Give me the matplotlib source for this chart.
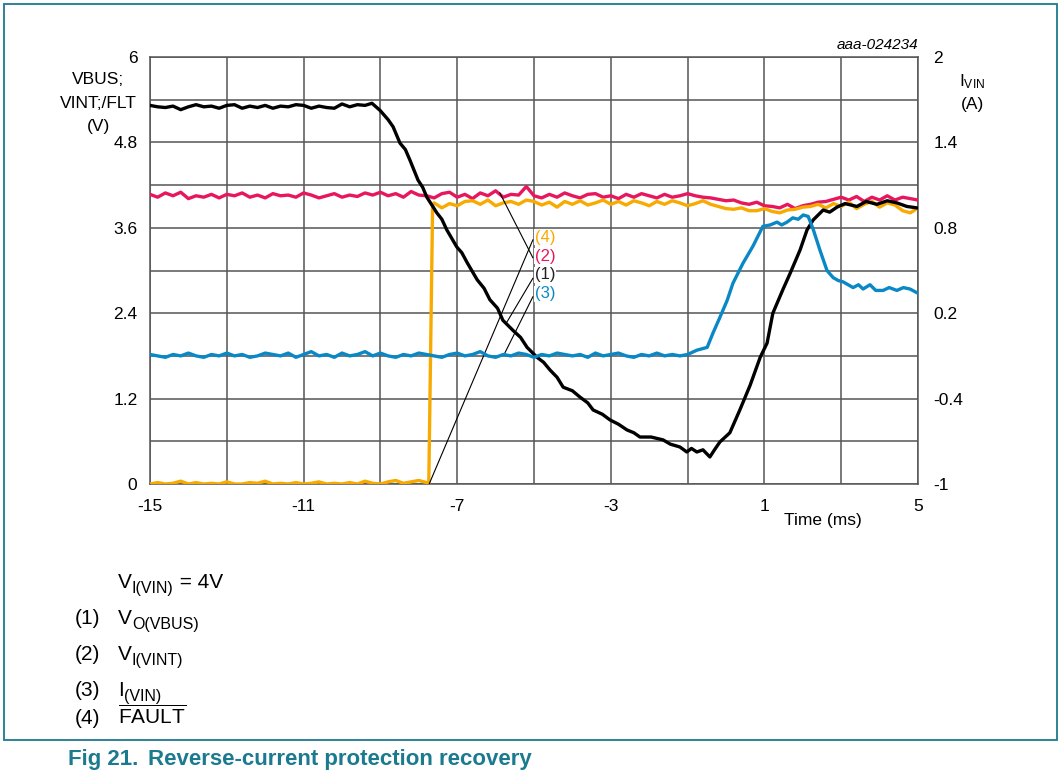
import numpy as np
import matplotlib
matplotlib.use("Agg")
import matplotlib.pyplot as plt
from matplotlib.patches import Rectangle
from matplotlib.transforms import offset_copy

plt.rcParams['font.family'] = ['Liberation Sans', 'DejaVu Sans']
plt.rcParams['mathtext.fontset'] = 'custom'
plt.rcParams['mathtext.rm'] = 'Liberation Sans'

# ---------------- data ----------------
# (1) V_O(VBUS) [V]
BLACK_FLAT_T = np.arange(-15.0, -9.39, 0.2)
BLACK_FLAT_V = [5.32, 5.30, 5.29, 5.31, 5.26, 5.30, 5.33, 5.30, 5.31, 5.28,
                5.32, 5.33, 5.28, 5.31, 5.29, 5.32, 5.28, 5.31, 5.30, 5.33,
                5.32, 5.28, 5.31, 5.29, 5.28, 5.34, 5.30, 5.33, 5.32]
BLACK_T = [-9.22, -9.01, -8.80, -8.67, -8.49, -8.35, -8.23, -8.02, -7.90, -7.79,
           -7.53, -7.40, -7.27, -7.01, -6.88, -6.74, -6.48, -6.30, -6.15, -5.95,
           -5.81, -5.55, -5.35, -5.18, -4.92, -4.75, -4.58, -4.40, -4.24, -4.00,
           -3.80, -3.60, -3.46, -3.22, -3.02, -2.80, -2.58, -2.40, -2.24, -1.95,
           -1.64, -1.45, -1.20, -1.02, -0.90, -0.76, -0.60, -0.42, -0.30, -0.16,
           0.10, 0.36, 0.63, 0.89, 1.07, 1.22, 1.48, 1.67, 1.93, 2.11,
           2.27, 2.53, 2.70, 2.89, 3.10, 3.41, 3.65, 3.93, 4.20, 4.45, 4.71, 4.97]
BLACK_V = [5.35, 5.25, 5.12, 5.02, 4.79, 4.70, 4.55, 4.27, 4.17, 4.03,
           3.81, 3.72, 3.57, 3.33, 3.25, 3.11, 2.87, 2.75, 2.59, 2.47,
           2.30, 2.16, 2.06, 1.92, 1.78, 1.71, 1.60, 1.50, 1.36, 1.31,
           1.22, 1.14, 1.04, 0.98, 0.90, 0.84, 0.76, 0.72, 0.66, 0.66,
           0.62, 0.56, 0.52, 0.45, 0.50, 0.45, 0.48, 0.38, 0.48, 0.59,
           0.72, 1.04, 1.39, 1.78, 1.98, 2.40, 2.73, 2.96, 3.29, 3.57,
           3.71, 3.85, 3.82, 3.89, 3.94, 3.90, 3.97, 3.93, 3.98, 3.95, 3.90, 3.88]

# (2) V_I(VINT) [V]
RED_T = np.arange(-15.0, 5.01, 0.2)
RED_V = [4.07, 4.03, 4.09, 4.05, 4.10, 4.01, 4.05, 4.03, 4.07, 4.02,
         4.07, 4.05, 4.09, 4.03, 4.06, 4.02, 4.08, 4.05, 4.06, 4.03,
         4.09, 4.06, 4.02, 4.05, 4.08, 4.03, 4.06, 4.04, 4.09, 4.06, 4.10,
         4.05, 4.08, 4.03, 4.11, 4.06, 4.05, 4.02, 4.08, 4.10, 4.03,
         4.07, 4.01, 4.09, 4.05, 4.12, 4.03, 4.07, 4.06, 4.18, 4.05,
         4.02, 4.07, 4.03, 4.09, 4.05, 4.02, 4.07, 4.08, 4.03, 4.05,
         4.01, 4.07, 4.03, 4.08, 4.05, 4.02, 4.07, 4.03, 4.05, 4.08,
         4.05, 4.03, 4.02, 4.00, 3.98,
         3.99, 3.95, 3.93, 3.96, 3.91, 3.90, 3.88, 3.93, 3.87, 3.91,
         3.93, 3.96, 3.97, 4.00, 4.03, 3.99, 4.04, 3.97, 4.03, 3.99,
         4.05, 3.99, 4.03, 4.01, 3.99]

# (4) FAULT [V]
ORANGE_LOW_T = np.arange(-15.0, -7.79, 0.2)
ORANGE_LOW_V = [0.00, 0.02, 0.00, 0.01, 0.04, 0.00, 0.02, 0.00, 0.01, 0.00,
                0.03, 0.00, 0.00, 0.02, 0.01, 0.04, 0.00, 0.01, 0.00, 0.02,
                0.00, 0.01, 0.03, 0.00, 0.01, 0.00, 0.02, 0.00, 0.04, 0.01,
                0.00, 0.03, 0.05, 0.01, 0.03, 0.05, 0.02]
ORANGE_EDGE_T = [-7.74, -7.64]
ORANGE_EDGE_V = [0.00, 3.92]
ORANGE_HIGH_T = np.arange(-7.6, 5.01, 0.2)
ORANGE_HIGH_V = [3.95, 3.88, 3.94, 3.91, 3.97, 3.98, 3.93, 3.99, 3.91, 3.95,
                 3.97, 3.93, 3.99, 3.97,
                 3.92, 3.96, 3.89, 3.97, 3.93, 3.98, 3.92, 3.95, 3.99, 3.93,
                 3.97, 3.92, 3.98, 3.95, 3.91, 3.97, 3.93, 3.98, 3.95, 3.91,
                 3.94, 3.98, 3.93, 3.90, 3.87, 3.86, 3.88, 3.84, 3.84, 3.87,
                 3.83, 3.81, 3.85, 3.86, 3.89, 3.90, 3.93, 3.88, 3.94, 3.90,
                 3.96, 3.87, 3.93, 3.97, 3.89, 3.95, 3.92, 3.84, 3.81, 3.88]

# (3) I_(VIN) [A]  (right axis)
BLUE_BASE_T = np.arange(-15.0, -0.99, 0.2)
BLUE_BASE_A = [-0.09, -0.10, -0.11, -0.09, -0.10, -0.08, -0.10, -0.11, -0.09, -0.10,
               -0.08, -0.10, -0.09, -0.11, -0.10, -0.08, -0.09, -0.10, -0.08, -0.11,
               -0.09, -0.07, -0.10, -0.09, -0.11, -0.08, -0.10, -0.09, -0.07, -0.10,
               -0.08, -0.10, -0.11, -0.09, -0.10, -0.08, -0.09, -0.10, -0.11, -0.09,
               -0.08, -0.10, -0.09, -0.07, -0.10, -0.11, -0.09, -0.10, -0.08, -0.09,
               -0.11, -0.09, -0.10, -0.08, -0.09, -0.10, -0.09, -0.11, -0.08, -0.10,
               -0.09, -0.08, -0.10, -0.11, -0.09, -0.10, -0.08, -0.10, -0.09, -0.10, -0.09]
BLUE_T = [-0.76, -0.49, -0.34, -0.16, 0.03, 0.18, 0.44, 0.70, 0.96, 1.15,
          1.33, 1.45, 1.59, 1.74, 1.88, 2.01, 2.14, 2.27, 2.45, 2.63, 2.79, 2.92, 3.05,
          3.31, 3.45, 3.57, 3.75, 3.90, 4.09, 4.25, 4.45, 4.62, 4.79, 5.00]
BLUE_A = [-0.06, -0.04, 0.06, 0.17, 0.29, 0.41, 0.55, 0.67, 0.81, 0.82,
          0.84, 0.82, 0.84, 0.87, 0.86, 0.89, 0.88, 0.79, 0.64, 0.50, 0.45, 0.43, 0.42,
          0.38, 0.40, 0.37, 0.40, 0.36, 0.36, 0.38, 0.36, 0.38, 0.37, 0.34]

X_TICKS = [-15, -11, -7, -3, 1, 5]
YL_TICKS = [0, 1.2, 2.4, 3.6, 4.8, 6]
YR_TICKS = [-1, -0.4, 0.2, 0.8, 1.4, 2]
YR_LABELS = ['-1', '-0.4', '0.2', '0.8', '1.4', '2']

C_BLACK = '#000000'
C_RED = '#E8175D'
C_ORANGE = '#F8AA00'
C_BLUE = '#0A88C6'
C_GRID = '#555555'
C_TEAL = '#1B7A8E'

W, H = 1063, 778
fig = plt.figure(figsize=(W / 100, H / 100), dpi=100)

def fx(px):
    return px / W

def fy(py):
    return 1 - py / H

ax = fig.add_axes([fx(150), fy(484), fx(918) - fx(150), fy(57) - fy(484)])
ax.set_xlim(-15, 5)
ax.set_ylim(0, 6)

xgrid = np.arange(-15, 5.01, 2)
ax.set_xticks(xgrid)
ax.set_xticklabels([str(int(v)) if int(v) in X_TICKS else '' for v in xgrid])
ygrid = np.round(np.arange(0, 6.01, 0.6), 2)
ax.set_yticks(ygrid)
ax.set_yticklabels([('%g' % v) if any(abs(v - t) < 1e-6 for t in YL_TICKS) else '' for v in ygrid])
ax.grid(True, color=C_GRID, lw=1.1)
ax.set_axisbelow(True)
ax.tick_params(length=0, labelsize=12.5, colors='black')
ax.tick_params(axis='x', pad=11)
ax.tick_params(axis='y', pad=9)
for s in ax.spines.values():
    s.set_color(C_GRID)
    s.set_linewidth(1.1)

lw = 2.4
ax.plot(RED_T, RED_V, color=C_RED, lw=lw, zorder=3)
ax.plot(list(ORANGE_LOW_T) + ORANGE_EDGE_T + list(ORANGE_HIGH_T),
        ORANGE_LOW_V + ORANGE_EDGE_V + ORANGE_HIGH_V, color=C_ORANGE, lw=lw, zorder=4)
ax.plot(list(BLACK_FLAT_T) + BLACK_T, BLACK_FLAT_V + BLACK_V, color=C_BLACK, lw=lw, zorder=5)

ax2 = ax.twinx()
ax2.set_ylim(-1, 2)
ax2.set_yticks(YR_TICKS)
ax2.set_yticklabels(YR_LABELS)
ax2.tick_params(length=0, labelsize=12.5, pad=11)
for s in ax2.spines.values():
    s.set_visible(False)
ax2.plot(list(BLUE_BASE_T) + BLUE_T, BLUE_BASE_A + BLUE_A, color=C_BLUE, lw=lw, zorder=3)

# leader lines and labels
leaders = [((-5.03, 3.43), (-7.73, 0.0)),
           ((-5.03, 3.18), (-5.89, 4.09)),
           ((-5.03, 2.89), (-5.70, 2.28)),
           ((-5.03, 2.63), (-5.76, 1.84))]
for (x0, y0), (x1, y1) in leaders:
    ax.plot([x0, x1], [y0, y1], color='black', lw=0.8, zorder=6)
for txt, yv, c in [('(4)', 3.47, C_ORANGE), ('(2)', 3.20, C_RED),
                   ('(1)', 2.94, '#222222'), ('(3)', 2.67, C_BLUE)]:
    ax.text(-4.97, yv, txt, color=c, fontsize=12, ha='left', va='center', zorder=7,
            bbox=dict(facecolor='white', edgecolor='none', pad=0.5))

# axis labels
fig.text(fx(98), fy(80), 'VBUS;', ha='center', va='center', fontsize=12.5)
fig.text(fx(98), fy(103), 'VINT;/FLT', ha='center', va='center', fontsize=12.5)
fig.text(fx(98), fy(127), '(V)', ha='center', va='center', fontsize=12.5)
fig.text(fx(972), fy(82), r'$\mathregular{I_{VIN}}$', ha='center', va='center', fontsize=12.5)
fig.text(fx(972), fy(104), '(A)', ha='center', va='center', fontsize=12.5)
fig.text(fx(823), fy(521), 'Time (ms)', ha='center', va='center', fontsize=12.5)
fig.text(fx(918), fy(45), 'aaa-024234', ha='right', va='center', fontsize=11, style='italic')

# legend block with manually placed subscripts
renderer = fig.canvas.get_renderer()
fs = 15
fs_sub = 11.5

def sub_text(px, py, main, sub, tail=''):
    t1 = fig.text(fx(px), fy(py), main, ha='left', va='baseline', fontsize=fs)
    bb = t1.get_window_extent(renderer)
    t2 = fig.text(bb.x1 / W, fy(py + 5), sub, ha='left', va='baseline', fontsize=fs_sub)
    if tail:
        bb2 = t2.get_window_extent(renderer)
        fig.text(bb2.x1 / W, fy(py), tail, ha='left', va='baseline', fontsize=fs)

sub_text(118, 588, 'V', 'I(VIN)', ' = 4V')
rows = [('(1)', 'V', 'O(VBUS)', 624),
        ('(2)', 'V', 'I(VINT)', 660),
        ('(3)', 'I', '(VIN)', 696)]
for num, m, s, py in rows:
    fig.text(fx(75), fy(py), num, ha='left', va='baseline', fontsize=fs)
    sub_text(118, py, m, s)
fig.text(fx(75), fy(724), '(4)', ha='left', va='baseline', fontsize=fs)
fig.text(fx(118), fy(724), r'$\mathregular{\overline{FAULT}}$', ha='left', va='baseline', fontsize=fs)

fig.text(fx(68), fy(760), 'Fig 21.', ha='left', va='center', fontsize=16,
         fontweight='bold', color=C_TEAL)
fig.text(fx(148), fy(760), 'Reverse-current protection recovery', ha='left', va='center',
         fontsize=16, fontweight='bold', color=C_TEAL)

# outer frame
fig.patches.append(Rectangle((fx(4), fy(740)), fx(1057) - fx(4), fy(4) - fy(740),
                             transform=fig.transFigure, fill=False,
                             edgecolor=C_TEAL, lw=1.3))

fig.savefig('out.png', dpi=100)
